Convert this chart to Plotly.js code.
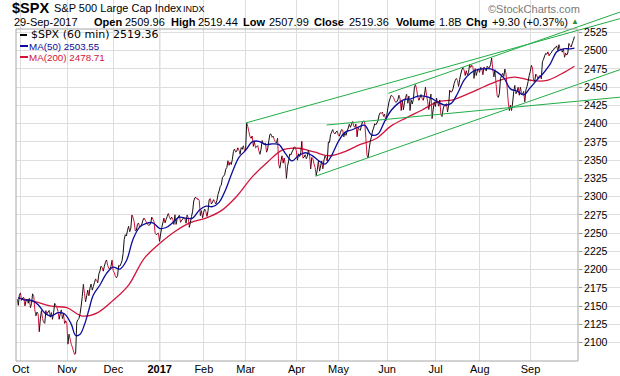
<!DOCTYPE html>
<html><head><meta charset="utf-8">
<script src="https://cdn.plot.ly/plotly-3.0.1.min.js"></script>
<style>html,body{margin:0;padding:0;background:#fff}#chart{width:620px;height:376px}</style>
</head><body><div id="chart"></div>
<script>
// ---- DATA (trading-day index: 0 = 3-Oct-2016) ----
const START_DAY = -2;
const closes = [2151.13, 2168.27,
 2161.20, 2150.49, 2159.73, 2160.77, 2153.74, 2163.66, 2136.73, 2139.18, 2132.55, 2132.98, 2126.50, 2139.60, 2144.29, 2141.34, 2141.16, 2151.33, 2143.16, 2139.43, 2133.04, 2126.41, 2126.15,
 2111.72, 2097.94, 2088.66, 2085.18, 2131.52, 2139.56, 2163.26, 2167.48, 2164.45, 2164.20, 2180.39, 2176.94, 2187.12, 2181.90, 2198.18, 2202.94, 2204.72, 2213.35, 2201.72, 2204.66, 2198.81,
 2191.08, 2191.95, 2204.71, 2212.23, 2241.35, 2246.19, 2259.53, 2256.96, 2271.72, 2253.28, 2262.03, 2258.07, 2262.53, 2270.76, 2265.18, 2260.96, 2263.79, 2268.88, 2249.92, 2249.26, 2238.83,
 2257.83, 2270.75, 2269.00, 2276.98, 2268.90, 2268.90, 2275.32, 2270.44, 2274.64, 2267.89, 2271.89, 2263.69, 2271.31, 2265.20, 2280.07, 2298.37, 2296.68, 2294.69, 2280.90, 2278.87,
 2279.55, 2280.85, 2297.42, 2292.56, 2293.08, 2294.67, 2307.87, 2316.10, 2328.25, 2337.58, 2349.25, 2347.22, 2351.16, 2365.38, 2362.82, 2363.81, 2367.34, 2369.75, 2363.64,
 2395.96, 2381.92, 2383.12, 2375.31, 2368.39, 2362.98, 2364.87, 2372.60, 2373.47, 2365.45, 2385.26, 2381.38, 2378.25, 2373.47, 2344.02, 2348.45, 2345.96, 2343.98, 2341.59, 2358.57, 2361.13, 2368.06, 2362.72,
 2358.84, 2360.16, 2352.95, 2357.49, 2355.54, 2357.16, 2353.78, 2344.93, 2328.95, 2349.01, 2342.19, 2338.17, 2355.84, 2348.69, 2374.15, 2388.61, 2387.45, 2388.77, 2384.20,
 2388.33, 2391.17, 2388.13, 2389.52, 2399.29, 2399.38, 2396.92, 2399.63, 2394.44, 2390.90, 2402.32, 2400.67, 2357.03, 2365.72, 2381.73, 2394.02, 2398.42, 2404.39, 2415.07, 2415.82, 2412.91, 2411.80,
 2430.06, 2439.07, 2436.10, 2429.33, 2433.14, 2433.79, 2431.77, 2429.39, 2440.35, 2437.92, 2432.46, 2433.15, 2453.46, 2437.03, 2435.61, 2434.50, 2438.30, 2439.07, 2419.38, 2440.69, 2419.70, 2423.41,
 2429.01, 2432.54, 2409.75, 2425.18, 2427.43, 2425.53, 2443.25, 2447.83, 2459.27, 2459.14, 2460.61, 2473.83, 2473.45, 2472.54, 2469.91, 2477.13, 2477.83, 2475.42, 2472.10, 2470.30,
 2476.35, 2477.57, 2472.16, 2476.83, 2480.91, 2474.92, 2474.02, 2438.21, 2441.32, 2465.84, 2464.61, 2468.11, 2430.01, 2425.55, 2428.37, 2452.51, 2444.04, 2438.97, 2443.05, 2444.24, 2446.30, 2457.59, 2471.65,
 2476.55, 2457.85, 2465.54, 2465.10, 2461.43, 2488.11, 2496.48, 2498.37, 2495.62, 2500.23, 2503.87, 2506.65, 2508.24, 2500.60, 2502.22, 2496.66, 2496.84, 2507.04, 2510.06, 2519.36];
const intraday = [2160, 2165,
 2158, 2162, 2157, 2154, 2148, 2167, 2145, 2142, 2115, 2144, 2128, 2144, 2142, 2135, 2132, 2154, 2148, 2132, 2145, 2139, 2130,
 2098, 2105, 2094, 2084, 2128, 2133, 2150, 2180, 2156, 2172, 2175, 2172, 2182, 2186, 2194, 2205, 2198, 2210, 2206, 2201, 2213,
 2196, 2189, 2206, 2208, 2222, 2248, 2254, 2252, 2275, 2266, 2254, 2264, 2260, 2268, 2268, 2262, 2261, 2272, 2266, 2248, 2250,
 2249, 2264, 2264, 2273, 2272, 2272, 2262, 2262, 2272, 2265, 2269, 2270, 2275, 2258, 2273, 2294, 2299, 2297, 2274, 2271,
 2283, 2273, 2296, 2290, 2296, 2290, 2303, 2314, 2326, 2330, 2340, 2343, 2344, 2362, 2361, 2367, 2358, 2365, 2363,
 2401, 2389, 2380, 2369, 2367, 2370, 2358, 2377, 2372, 2361, 2376, 2386, 2383, 2375, 2380, 2339, 2356, 2353, 2325, 2349, 2357, 2364, 2368,
 2350, 2355, 2376, 2354, 2352, 2364, 2338, 2352, 2340, 2337, 2335, 2349, 2350, 2353, 2375, 2385, 2392, 2386, 2390,
 2383, 2392, 2382, 2384, 2394, 2395, 2403, 2395, 2382, 2392, 2398, 2404, 2380, 2353, 2376, 2390, 2400, 2401, 2412, 2414, 2410, 2404,
 2422, 2435, 2438, 2432, 2430, 2439, 2418, 2419, 2436, 2428, 2418, 2427, 2450, 2447, 2432, 2440, 2432, 2450, 2430, 2432, 2407, 2430,
 2435, 2424, 2412, 2420, 2424, 2416, 2446, 2444, 2455, 2462, 2451, 2468, 2477, 2466, 2467, 2481, 2480, 2462, 2466, 2475,
 2477, 2467, 2476, 2479, 2477, 2490, 2464, 2454, 2436, 2462, 2469, 2475, 2450, 2418, 2418, 2444, 2441, 2450, 2450, 2440, 2430, 2451, 2466,
 2480, 2458, 2468, 2461, 2466, 2485, 2493, 2495, 2493, 2497, 2501, 2504, 2500, 2502, 2498, 2491, 2494, 2510, 2505, 2514];
const monthStartDays = [0, 21, 42, 63, 83, 102, 125, 144, 166, 188, 208, 231];
const monthLabels = ['Oct', 'Nov', 'Dec', '2017', 'Feb', 'Mar', 'Apr', 'May', 'Jun', 'Jul', 'Aug', 'Sep'];
const yearLabelIndex = 3;
const ma50Days = [-2, 1, 4, 7, 10, 13, 16, 19, 22, 24, 26, 28, 30, 32, 35, 38, 41, 44, 47, 50, 53, 56, 59, 62, 65, 68, 71, 74, 77, 80, 83, 86, 89, 92, 95, 98, 101, 104, 107, 110, 113, 116, 119, 122, 125, 128, 131, 134, 137, 140, 143, 146, 149, 152, 155, 158, 161, 164, 167, 170, 173, 176, 179, 182, 185, 188, 191, 194, 197, 200, 203, 206, 209, 212, 215, 218, 221, 224, 227, 230, 233, 236, 239, 242, 245, 248, 250];
const ma50 = [2161.9, 2158.4, 2157.9, 2152.0, 2140.8, 2136.6, 2141.1, 2139.4, 2125.4, 2109.9, 2111.5, 2124.8, 2145.1, 2165.2, 2179.0, 2195.0, 2203.5, 2200.9, 2212.3, 2241.8, 2258.3, 2263.4, 2264.3, 2256.7, 2257.8, 2264.5, 2272.0, 2270.4, 2270.7, 2281.4, 2287.0, 2286.4, 2292.3, 2310.0, 2333.9, 2353.9, 2363.4, 2375.1, 2375.9, 2371.5, 2372.3, 2371.6, 2359.4, 2349.1, 2356.4, 2360.2, 2356.6, 2349.6, 2344.7, 2356.7, 2375.4, 2388.1, 2391.4, 2395.3, 2397.8, 2384.7, 2386.0, 2403.2, 2418.4, 2427.5, 2433.2, 2434.1, 2437.7, 2437.8, 2434.9, 2429.9, 2425.8, 2427.5, 2441.1, 2459.6, 2469.5, 2474.1, 2475.2, 2475.2, 2470.7, 2462.8, 2447.7, 2444.7, 2439.5, 2449.4, 2460.0, 2469.5, 2481.5, 2498.5, 2502.5, 2502.6, 2503.55];
const ma200Days = [-2, 6, 13, 20, 27, 34, 41, 48, 55, 62, 69, 76, 83, 90, 97, 104, 111, 118, 125, 132, 139, 146, 153, 160, 167, 174, 181, 188, 195, 202, 209, 216, 223, 230, 237, 244, 250];
const ma200 = [2161, 2156, 2150, 2147.9, 2136.5, 2141.3, 2158.0, 2179.0, 2215.3, 2235.8, 2252.4, 2264.5, 2270.7, 2280.9, 2300.7, 2327.1, 2347.6, 2364.5, 2366.4, 2361.3, 2356.1, 2361.8, 2371.6, 2379.4, 2397.0, 2408.3, 2418.8, 2429.9, 2432.8, 2441.2, 2450.6, 2459.5, 2463.9, 2459.5, 2458.9, 2468.1, 2478.71];
const trendStartDay = [102, 166.6, 133.5, 138.6];
const trendStartVal = [2401, 2441.6, 2328, 2398.2];
const trendEndDay = [271.5, 271.5, 271.5, 271.5];
const trendEndVal = [2543.9, 2552.9, 2474.0, 2436.3];
const yTicks = [2100, 2125, 2150, 2175, 2200, 2225, 2250, 2275, 2300, 2325, 2350, 2375, 2400, 2425, 2450, 2475, 2500, 2525];
const header = {sym: '$SPX', name: 'S&P 500 Large Cap Index', exch: 'INDX', date: '29-Sep-2017',
  open: '2509.96', high: '2519.44', low: '2507.99', close: '2519.36', volume: '1.8B', chg: '+9.30 (+0.37%)'};
const legendText = ['$SPX (60 min) 2519.36', 'MA(50) 2503.55', 'MA(200) 2478.71'];

// ---- BUILD ----
const px = [], py = [];
closes.forEach((c, k) => { const d = START_DAY + k; px.push(d + 0.4); py.push(intraday[k]); px.push(d + 0.9); py.push(c); });
const up = {x: [], y: []}, dn = {x: [], y: []};
for (let i = 1; i < px.length; i++) {
  const t = py[i] >= py[i - 1] ? up : dn;
  t.x.push(px[i - 1], px[i], null); t.y.push(py[i - 1], py[i], null);
}
const RED = '#d2143c', BLUE = '#0c0c9c', GREEN = '#20ad45';
const traces = [
  {x: ma200Days.map(d => d + 0.9), y: ma200, mode: 'lines', line: {color: RED, width: 1.3, shape: 'spline', smoothing: 1}, hoverinfo: 'skip'},
  {x: dn.x, y: dn.y, mode: 'lines', line: {color: RED, width: 1}, hoverinfo: 'skip', connectgaps: false},
  {x: up.x, y: up.y, mode: 'lines', line: {color: '#111', width: 1}, hoverinfo: 'skip', connectgaps: false},
  {x: ma50Days.map(d => d + 0.9), y: ma50, mode: 'lines', line: {color: BLUE, width: 1.3, shape: 'spline', smoothing: 1}, hoverinfo: 'skip'}
];
trendStartDay.forEach((d, i) => traces.push({x: [d, trendEndDay[i]], y: [trendStartVal[i], trendEndVal[i]], mode: 'lines', line: {color: GREEN, width: 1}, hoverinfo: 'skip'}));

// pixel helpers for layout decoration
const L = 16, R = 620, T = 0, B = 361, FRAME_R = 578, FRAME_T = 29;
const PX = x => (x - L) / (R - L), PY = y => (B - y) / (B - T);
const SANS = 'Liberation Sans, Arial, sans-serif';
function ann(x, y, text, size, color, extra) {
  return Object.assign({xref: 'paper', yref: 'paper', x: PX(x), y: PY(y), text: text, showarrow: false,
    xanchor: 'left', yanchor: 'middle', font: {family: SANS, size: size, color: color}, borderpad: 0}, extra || {});
}
const annotations = [
  ann(11, 8, '<b>' + header.sym + '</b>', 14.5, '#000'),
  ann(53, 8, header.name, 11, '#000'),
  ann(182, 9, header.exch, 9, '#000'),
  ann(13, 22, header.date, 11, '#000'),
  ann(93, 22, '<b>Open</b>', 11, '#000'), ann(124, 22, header.open, 11, '#000'),
  ann(170, 22, '<b>High</b>', 11, '#000'), ann(197, 22, header.high, 11, '#000'),
  ann(242, 22, '<b>Low</b>', 11, '#000'), ann(268, 22, header.low, 11, '#000'),
  ann(313, 22, '<b>Close</b>', 11, '#000'), ann(348, 22, header.close, 11, '#000'),
  ann(395, 22, '<b>Volume</b>', 11, '#000'), ann(438, 22, header.volume, 11, '#000'),
  ann(465, 22, '<b>Chg</b>', 11, '#000'), ann(491, 22, header.chg, 11, '#000'),
  ann(570, 22, '▲', 8, '#2f8f3a'),
  ann(487, 9, '©StockCharts.com', 11, '#7a7a7a'),
  ann(30, 35, legendText[0], 11, '#000', {font: {family: 'DejaVu Sans, sans-serif', size: 11, color: '#000'}}),
  ann(28, 46, legendText[1], 9.8, BLUE),
  ann(28, 57, legendText[2], 9.8, RED)
];
const shapes = [
  {type: 'rect', xref: 'paper', yref: 'paper', x0: PX(FRAME_R + 0.5), x1: 1.01, y0: -0.01, y1: 1.01, fillcolor: '#fff', line: {width: 0}, layer: 'between'},
  {type: 'rect', xref: 'paper', yref: 'paper', x0: -0.01, x1: 1.01, y0: PY(FRAME_T), y1: 1.01, fillcolor: '#fff', line: {width: 0}, layer: 'between'},
  {type: 'line', xref: 'x', yref: 'paper', x0: monthStartDays[yearLabelIndex], x1: monthStartDays[yearLabelIndex], y0: 0, y1: PY(FRAME_T), line: {color: '#b4b4b4', width: 1}, layer: 'between'},
  {type: 'rect', xref: 'paper', yref: 'paper', x0: 0, x1: PX(FRAME_R), y0: 0, y1: PY(FRAME_T), line: {color: '#a6a6a6', width: 1}, fillcolor: 'rgba(0,0,0,0)', layer: 'above'},
  {type: 'line', xref: 'paper', yref: 'paper', x0: PX(20), x1: PX(27), y0: PY(35), y1: PY(35), line: {color: '#000', width: 2}},
  {type: 'line', xref: 'paper', yref: 'paper', x0: PX(20), x1: PX(28), y0: PY(46), y1: PY(46), line: {color: BLUE, width: 2}},
  {type: 'line', xref: 'paper', yref: 'paper', x0: PX(20), x1: PX(28), y0: PY(57), y1: PY(57), line: {color: RED, width: 2}}
];
const dayAt = p => (p - 20.7) / 2.207;
const valAt = p => 2500 - (p - 50.7) * 25 / 18.25;
const layout = {
  width: 620, height: 376, margin: {l: L, r: 620 - R, t: T, b: 376 - B, pad: 0},
  paper_bgcolor: '#fff', plot_bgcolor: '#fff', showlegend: false,
  xaxis: {range: [dayAt(L), dayAt(R)], tickmode: 'array', tickvals: monthStartDays,
    ticktext: monthLabels.map((m, i) => i === yearLabelIndex ? '<b>' + m + '</b>' : m),
    showgrid: true, gridcolor: '#dedede', gridwidth: 1, zeroline: false, showline: false, ticks: '',
    tickfont: {family: SANS, size: 11, color: '#000'}, fixedrange: true},
  yaxis: {range: [valAt(B), valAt(T)], tickmode: 'array', tickvals: yTicks, ticktext: yTicks.map(String),
    anchor: 'free', position: PX(FRAME_R), side: 'right', showgrid: true, gridcolor: '#dedede', gridwidth: 1,
    zeroline: false, showline: false, ticks: 'outside', ticklen: 3, tickcolor: '#999',
    tickfont: {family: SANS, size: 10.5, color: '#000'}, fixedrange: true},
  annotations: annotations, shapes: shapes
};
Plotly.newPlot('chart', traces, layout, {staticPlot: true, displayModeBar: false});
</script></body></html>
